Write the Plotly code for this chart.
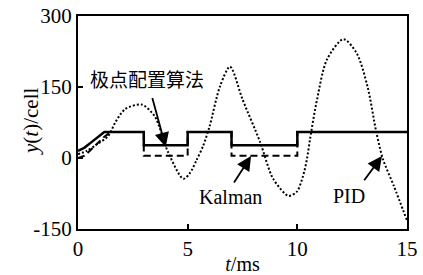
import plotly.graph_objects as go

# Pole placement (solid)
t_pole = [0, 0.3, 0.6, 0.9, 1.2, 3.0, 3.0, 5.0, 5.0, 7.0, 7.0, 10.0, 10.0, 15.0]
y_pole = [15, 22, 33, 45, 55, 55, 27, 27, 55, 55, 27, 27, 55, 55]

# Kalman (dashed)
t_kal = [0, 0.3, 0.6, 0.9, 1.2, 1.5, 3.0, 3.0, 5.0, 5.0, 7.0, 7.0, 10.0, 10.0, 15.0]
y_kal = [0, 5, 18, 32, 45, 55, 55, 5, 5, 55, 55, 5, 5, 55, 55]

# PID (dotted)
t_pid = [0, 0.4, 0.9, 1.37, 1.7, 2.14, 2.9, 3.5, 4.1, 4.8, 5.1, 5.4, 5.7, 6.0, 6.47, 6.93,
         7.5, 8.3, 8.9, 9.6, 9.98, 10.26, 10.44, 10.58, 10.9, 11.35, 12.1, 12.7, 13.2,
         13.6, 13.9, 14.4, 15.0]
y_pid = [8, 15, 30, 46, 75, 103, 113, 88, 13, -44, -32, -5, 25, 67, 151, 193,
         124, 34, -44, -80, -71, -38, -2, 40, 124, 208, 251, 222, 151,
         55, -2, -59, -132]

x_ticks = [0, 5, 10, 15]
x_tick_text = ["0", "5", "10", "15"]
y_ticks = [-150, 0, 150, 300]
y_tick_text = ["-150", "0", "150", "300"]

serif = "Liberation Serif"

fig = go.Figure()
fig.add_trace(go.Scatter(x=t_pid, y=y_pid, mode="lines", line=dict(color="black", width=2, dash="2px,2px", shape="spline", smoothing=0.8)))
fig.add_trace(go.Scatter(x=t_kal, y=y_kal, mode="lines", line=dict(color="black", width=2, dash="7px,4px")))
fig.add_trace(go.Scatter(x=t_pole, y=y_pole, mode="lines", line=dict(color="black", width=2.5)))

ann_common = dict(xref="x", yref="y", axref="x", ayref="y", showarrow=True,
                  arrowhead=2, arrowsize=1.6, arrowwidth=1.8, arrowcolor="black",
                  text="", standoff=0)
fig.add_annotation(x=4.0, y=23, ax=3.37, ay=130, **ann_common)
fig.add_annotation(x=7.89, y=4, ax=7.07, ay=-55, **ann_common)
fig.add_annotation(x=13.86, y=4, ax=13.0, ay=-50, **ann_common)

fig.add_annotation(x=0.5, y=167, xref="x", yref="y", text="极点配置算法", showarrow=False,
                   xanchor="left", yanchor="middle", borderpad=0,
                   font=dict(family="Noto Sans CJK SC", size=19, color="black"))
fig.add_annotation(x=5.45, y=-82, xref="x", yref="y", text="Kalman", showarrow=False,
                   xanchor="left", yanchor="middle", borderpad=0,
                   font=dict(family=serif, size=20, color="black"))
fig.add_annotation(x=11.6, y=-80, xref="x", yref="y", text="PID", showarrow=False,
                   xanchor="left", yanchor="middle", borderpad=0,
                   font=dict(family=serif, size=20, color="black"))
fig.add_annotation(x=-0.143, y=0.507, xref="paper", yref="paper",
                   text="<i>y</i>(<i>t</i>)/cell", showarrow=False, textangle=-90,
                   xanchor="center", yanchor="middle",
                   font=dict(family=serif, size=21, color="black"))

fig.update_layout(
    template="none",
    width=423, height=275,
    margin=dict(l=78, r=16, t=16, b=46, autoexpand=False),
    paper_bgcolor="white", plot_bgcolor="white",
    showlegend=False,
    font=dict(family=serif, size=20, color="black"),
)
fig.update_xaxes(range=[0, 15], tickvals=x_ticks, ticktext=x_tick_text, automargin=False,
                 ticks="inside", ticklen=5, tickwidth=1.5, tickcolor="black",
                 showline=True, linecolor="black", linewidth=2, mirror=True,
                 showgrid=False, zeroline=False,
                 title=dict(text="<i>t</i>/ms", standoff=2, font=dict(family=serif, size=20)),
                 tickfont=dict(family=serif, size=21))
fig.update_yaxes(range=[-150, 300], tickvals=y_ticks, ticktext=y_tick_text, automargin=False,
                 ticks="inside", ticklen=5, tickwidth=1.5, tickcolor="black",
                 showline=True, linecolor="black", linewidth=2, mirror=True,
                 showgrid=False, zeroline=False,
                 tickfont=dict(family=serif, size=21))

fig.write_html("out.html", config={"displayModeBar": False},
               post_script="document.body.style.margin='0';document.body.style.padding='0';")
